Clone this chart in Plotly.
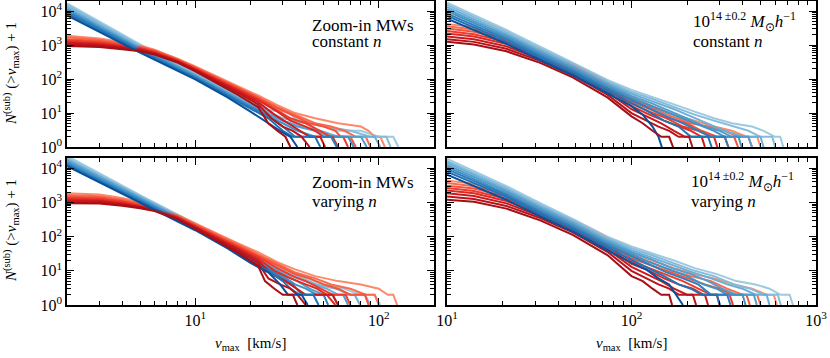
import plotly.graph_objects as go
import math

# ---------------- data ----------------
# Left column (zoom-in MWs): common body grids
L_RED_V = [2, 3, 4, 5, 6, 8, 10, 12, 17, 22]
L_BLUE_V = [2, 5, 10, 15, 20]
# Right column (clusters)
R_RED_V = [10, 14, 21, 32, 48, 74, 100]
R_BLUE_V = [10, 21, 32, 48, 74, 100]

# Top-left: Zoom-in MWs, constant n
TL_RED_N = [
    [1900, 1580, 1230, 980, 740, 400, 235, 150, 62, 33],
    [1700, 1450, 1150, 920, 700, 385, 225, 140, 57, 30],
    [1500, 1320, 1070, 870, 670, 370, 215, 134, 54, 28],
    [1380, 1220, 1000, 830, 640, 360, 205, 128, 51, 26],
    [1250, 1120, 930, 780, 610, 345, 198, 122, 48, 24],
    [1150, 1040, 870, 740, 580, 335, 190, 116, 44, 21],
    [1050, 960, 820, 700, 555, 320, 180, 108, 40, 18],
    [950, 880, 760, 660, 530, 305, 170, 100, 35, 15],
]
TL_RED_TAIL = [
    [(28, 17), (35, 10), (45, 7), (60, 5), (80, 4), (88, 3), (95, 2), (102, 2), (108, 1)],
    [(28, 15), (35, 9), (45, 5), (55, 4), (65, 3), (75, 2), (85, 2), (90, 1)],
    [(28, 14), (35, 8), (42, 5), (50, 4), (58, 3), (62, 2), (70, 2), (75, 1)],
    [(28, 12), (33, 7), (40, 5), (48, 3), (55, 2), (64, 2), (68, 1)],
    [(28, 11), (33, 6), (40, 4), (45, 3), (50, 2), (56, 2), (60, 1)],
    [(27, 9), (32, 5), (37, 3), (42, 2), (48, 2), (51, 1)],
    [(26, 7), (30, 4), (34, 3), (38, 2), (42, 1)],
    [(25, 5), (28, 3), (31, 2), (33, 1)],
]
TL_BLUE_N = [
    [17000, 1050, 150, 46, 21],
    [15000, 960, 142, 44, 20],
    [13000, 880, 134, 41, 18],
    [11500, 810, 126, 39, 17],
    [10500, 760, 120, 37, 16],
    [9500, 710, 113, 35, 15],
    [8500, 660, 106, 32, 13],
    [7500, 600, 98, 29, 11],
]
TL_BLUE_TAIL = [
    [(25, 12), (32, 11), (36, 6), (45, 5), (60, 3), (80, 3), (100, 2), (120, 2), (128, 1)],
    [(25, 11), (30, 7), (40, 5), (50, 4), (70, 3), (90, 2), (110, 2), (116, 1)],
    [(25, 10), (30, 6), (38, 4), (48, 3), (60, 2), (95, 2), (102, 1)],
    [(25, 9), (30, 6), (36, 4), (45, 3), (55, 2), (80, 2), (86, 1)],
    [(25, 8), (30, 5), (36, 3), (45, 2), (68, 2), (73, 1)],
    [(25, 8), (30, 4), (35, 2), (55, 2), (59, 1)],
    [(25, 7), (30, 3), (34, 2), (45, 2), (48, 1)],
    [(25, 5), (29, 3), (33, 2), (36, 1)],
]

# Bottom-left: Zoom-in MWs, varying n
BL_RED_N = [
    [1850, 1700, 1350, 1040, 800, 430, 240, 155, 65, 35],
    [1650, 1520, 1230, 960, 750, 410, 228, 146, 60, 31],
    [1480, 1390, 1130, 900, 710, 395, 218, 138, 56, 28],
    [1360, 1290, 1060, 850, 680, 380, 210, 131, 52, 26],
    [1250, 1190, 990, 800, 650, 365, 200, 124, 48, 23],
    [1140, 1100, 920, 760, 620, 350, 190, 116, 44, 20],
    [1040, 1010, 860, 720, 590, 335, 180, 108, 39, 17],
    [950, 930, 800, 680, 560, 320, 170, 99, 34, 14],
]
BL_RED_TAIL = [
    [(28, 18), (35, 11), (45, 7), (60, 5), (80, 4), (100, 3), (112, 2), (120, 2), (126, 1)],
    [(28, 16), (35, 9), (45, 6), (55, 4), (70, 3), (85, 2), (95, 2), (100, 1)],
    [(28, 14), (35, 8), (42, 6), (50, 4), (60, 3), (70, 2), (84, 2), (88, 1)],
    [(28, 12), (34, 7), (40, 5), (48, 3), (56, 2), (66, 2), (70, 1)],
    [(27, 10), (33, 6), (40, 4), (46, 3), (52, 2), (58, 1)],
    [(26, 8), (31, 5), (36, 3), (40, 2), (56, 2), (60, 1)],
    [(25, 6), (29, 4), (33, 3), (36, 2), (40, 1)],
    [(24, 5), (27, 3), (30, 2), (34, 2), (36, 1)],
]
BL_BLUE_N = [
    [23000, 1650, 240, 72, 30],
    [20000, 1500, 225, 67, 28],
    [18000, 1400, 212, 63, 27],
    [16500, 1300, 200, 60, 25],
    [15000, 1220, 190, 57, 23],
    [13500, 1130, 178, 53, 21],
    [12500, 1050, 166, 49, 19],
    [11500, 970, 154, 45, 17],
]
BL_BLUE_TAIL = [
    [(25, 17), (30, 11), (38, 7), (50, 4), (65, 3), (80, 2), (95, 2), (102, 1)],
    [(25, 16), (30, 10), (36, 7), (46, 4), (58, 3), (70, 2), (84, 2), (90, 1)],
    [(25, 15), (30, 9), (36, 6), (44, 4), (52, 3), (60, 2), (74, 2), (79, 1)],
    [(25, 14), (30, 8), (36, 5), (42, 3), (50, 2), (64, 2), (68, 1)],
    [(25, 12), (30, 7), (35, 4), (40, 3), (46, 2), (56, 2), (60, 1)],
    [(25, 11), (30, 6), (34, 4), (38, 2), (50, 2), (53, 1)],
    [(25, 10), (30, 5), (33, 3), (37, 2), (44, 2), (47, 1)],
    [(25, 9), (29, 4), (32, 2), (38, 2), (41, 1)],
]

# Top-right: clusters, constant n
TR_RED_N = [
    [4200, 3400, 1900, 720, 280, 85, 30],
    [3600, 2900, 1650, 640, 250, 75, 26],
    [3100, 2500, 1450, 570, 220, 66, 22],
    [2600, 2100, 1250, 510, 195, 58, 19],
    [2200, 1800, 1080, 450, 172, 50, 16],
    [1800, 1500, 920, 395, 150, 42, 13],
    [1500, 1250, 780, 345, 130, 35, 10],
    [1250, 1050, 660, 300, 112, 29, 8],
]
TR_RED_TAIL = [
    [(130, 16), (170, 9), (220, 6), (280, 4), (350, 3), (420, 2), (480, 2), (500, 1)],
    [(130, 14), (165, 8), (210, 5), (260, 4), (320, 3), (380, 2), (430, 2), (450, 1)],
    [(130, 12), (160, 7), (200, 5), (240, 3), (290, 2), (360, 2), (378, 1)],
    [(125, 11), (155, 7), (190, 4), (230, 3), (270, 2), (320, 2), (335, 1)],
    [(125, 9), (150, 6), (180, 4), (210, 3), (240, 2), (280, 2), (292, 1)],
    [(120, 8), (145, 5), (170, 3), (195, 2), (240, 2), (250, 1)],
    [(120, 6), (140, 4), (160, 3), (180, 2), (205, 2), (214, 1)],
    [(115, 5), (130, 3), (145, 2), (160, 2), (168, 1)],
]
TR_BLUE_N = [
    [18000, 2800, 900, 310, 95, 48],
    [15500, 2450, 800, 280, 85, 42],
    [13500, 2150, 700, 250, 76, 37],
    [11500, 1900, 620, 220, 67, 32],
    [10000, 1700, 550, 198, 60, 28],
    [8500, 1500, 480, 175, 52, 24],
    [7300, 1300, 420, 152, 45, 20],
    [6000, 1100, 360, 130, 38, 16],
]
TR_BLUE_TAIL = [
    [(130, 30), (170, 18), (220, 11), (280, 7), (350, 5), (450, 4), (520, 3), (600, 2), (640, 2), (665, 1)],
    [(130, 26), (170, 15), (220, 9), (280, 6), (360, 4), (430, 3), (500, 2), (580, 2), (600, 1)],
    [(130, 22), (170, 13), (210, 8), (260, 5), (320, 3), (400, 2), (500, 2), (520, 1)],
    [(130, 19), (165, 11), (200, 7), (250, 4), (300, 3), (350, 2), (430, 2), (450, 1)],
    [(125, 17), (160, 10), (200, 6), (240, 4), (280, 3), (320, 2), (380, 2), (395, 1)],
    [(125, 14), (155, 8), (190, 5), (230, 3), (270, 2), (320, 2), (335, 1)],
    [(120, 12), (150, 6), (180, 4), (210, 2), (260, 2), (272, 1)],
    [(115, 9), (130, 4), (140, 2), (146, 1)],
]

# Bottom-right: clusters, varying n
BR_RED_N = [
    [4400, 3500, 2000, 780, 300, 92, 34],
    [3700, 3000, 1700, 670, 260, 78, 28],
    [3100, 2550, 1480, 590, 228, 68, 23],
    [2650, 2150, 1280, 520, 200, 59, 19],
    [2250, 1850, 1100, 460, 176, 51, 16],
    [1850, 1550, 940, 400, 154, 43, 13],
    [1500, 1270, 790, 350, 133, 36, 10],
    [1200, 1050, 660, 300, 113, 29, 7],
]
BR_RED_TAIL = [
    [(130, 20), (170, 12), (220, 8), (280, 6), (360, 4), (450, 3), (540, 2), (590, 2), (614, 1)],
    [(130, 17), (165, 10), (210, 7), (270, 5), (330, 3), (400, 2), (480, 2), (500, 1)],
    [(130, 14), (160, 9), (200, 6), (250, 4), (300, 3), (350, 2), (420, 2), (438, 1)],
    [(125, 12), (155, 8), (190, 5), (230, 3), (270, 2), (340, 2), (355, 1)],
    [(125, 10), (150, 6), (180, 4), (215, 3), (245, 2), (290, 2), (300, 1)],
    [(120, 8), (145, 5), (170, 3), (200, 2), (250, 2), (260, 1)],
    [(120, 6), (140, 4), (160, 3), (180, 2), (215, 2), (224, 1)],
    [(115, 5), (130, 3), (145, 2), (160, 2), (166, 1)],
]
BR_BLUE_N = [
    [19000, 3000, 950, 330, 100, 52],
    [16500, 2650, 850, 300, 90, 46],
    [14500, 2350, 760, 270, 81, 40],
    [12500, 2100, 680, 240, 72, 35],
    [11000, 1850, 600, 215, 64, 30],
    [9500, 1650, 530, 190, 56, 26],
    [8000, 1450, 460, 165, 48, 21],
    [6500, 1200, 390, 140, 40, 17],
]
BR_BLUE_TAIL = [
    [(130, 32), (170, 20), (220, 12), (290, 8), (370, 5), (470, 4), (560, 3), (640, 2), (720, 2), (750, 1)],
    [(130, 28), (170, 17), (220, 10), (280, 7), (360, 4), (440, 3), (520, 2), (620, 2), (645, 1)],
    [(130, 24), (170, 14), (215, 9), (270, 6), (330, 4), (400, 3), (470, 2), (540, 2), (560, 1)],
    [(130, 21), (165, 12), (210, 8), (260, 5), (310, 3), (370, 2), (460, 2), (478, 1)],
    [(125, 18), (160, 11), (200, 7), (245, 4), (290, 3), (330, 2), (400, 2), (415, 1)],
    [(125, 15), (155, 9), (190, 6), (230, 4), (270, 2), (330, 2), (344, 1)],
    [(120, 13), (150, 7), (180, 4), (210, 3), (240, 2), (290, 2), (302, 1)],
    [(120, 11), (140, 6), (160, 4), (175, 2), (190, 1)],
]

RED_COLORS = ['#fc8a6a', '#fb6a4a', '#f5533b', '#ef3b2c', '#de2a25', '#cb181d', '#b81419', '#a50f15']
BLUE_COLORS = ['#9ecae1', '#85bcdc', '#6baed6', '#539ecd', '#4292c6', '#2f7ebc', '#2171b5', '#08519c']

PANEL_TEXT = {
    'tl': ['Zoom-in MWs', 'constant <i>n</i>'],
    'tr': ['10<sup>14 ±0.2</sup> <i>M</i><sub>⊙</sub><i>h</i><sup>−1</sup>', 'constant <i>n</i>'],
    'bl': ['Zoom-in MWs', 'varying <i>n</i>'],
    'br': ['10<sup>14 ±0.2</sup> <i>M</i><sub>⊙</sub><i>h</i><sup>−1</sup>', 'varying <i>n</i>'],
}

# ---------------- layout geometry ----------------
W, H = 830, 358
ML, MR, MT, MB = 67, 14, 1, 53
PW = W - ML - MR
PH = H - MT - MB

def px_x(px):
    return (px - ML) / PW

def px_y(py):
    return (H - MB - py) / PH

FONT = 'Liberation Serif'

fig = go.Figure()

panels = {
    'tl': dict(xa='x', ya='y', rv=L_RED_V, bv=L_BLUE_V, rn=TL_RED_N, rt=TL_RED_TAIL, bn=TL_BLUE_N, bt=TL_BLUE_TAIL),
    'tr': dict(xa='x2', ya='y2', rv=R_RED_V, bv=R_BLUE_V, rn=TR_RED_N, rt=TR_RED_TAIL, bn=TR_BLUE_N, bt=TR_BLUE_TAIL),
    'bl': dict(xa='x3', ya='y3', rv=L_RED_V, bv=L_BLUE_V, rn=BL_RED_N, rt=BL_RED_TAIL, bn=BL_BLUE_N, bt=BL_BLUE_TAIL),
    'br': dict(xa='x4', ya='y4', rv=R_RED_V, bv=R_BLUE_V, rn=BR_RED_N, rt=BR_RED_TAIL, bn=BR_BLUE_N, bt=BR_BLUE_TAIL),
}

for key, p in panels.items():
    for i in range(8):
        for kind in ('blue', 'red'):
            if kind == 'red':
                xs = list(p['rv']) + [t[0] for t in p['rt'][i]]
                ys = list(p['rn'][i]) + [t[1] for t in p['rt'][i]]
                col = RED_COLORS[i]
            else:
                xs = list(p['bv']) + [t[0] for t in p['bt'][i]]
                ys = list(p['bn'][i]) + [t[1] for t in p['bt'][i]]
                col = BLUE_COLORS[i]
            fig.add_trace(go.Scatter(x=xs, y=ys, mode='lines', xaxis=p['xa'], yaxis=p['ya'],
                                     line=dict(color=col, width=2), showlegend=False,
                                     hoverinfo='skip'))

xl_dom = [px_x(67), px_x(434)]
xr_dom = [px_x(447), px_x(816)]
yt_dom = [px_y(147), px_y(1)]
yb_dom = [px_y(305), px_y(158)]

sup = lambda e: '10<sup>%d</sup>' % e

def xaxis(dom, rng, vals, labels, anchor):
    return dict(type='log', domain=dom, range=rng, anchor=anchor, automargin=False,
                showline=True, linecolor='black', linewidth=1.5, mirror='ticks',
                ticks='inside', ticklen=7, tickwidth=1.3, tickcolor='black',
                tickvals=vals, ticktext=[sup(int(round(math.log10(v)))) for v in vals],
                showticklabels=labels, showgrid=False, zeroline=False,
                minor=dict(ticks='inside', ticklen=4, tickwidth=1, tickcolor='black', dtick='D1', showgrid=False),
                tickfont=dict(family=FONT, size=16, color='black'))

def yaxis(dom, labels, anchor):
    vals = [1, 10, 100, 1000, 10000]
    return dict(type='log', domain=dom, range=[0, math.log10(2e4)], anchor=anchor, automargin=False,
                showline=True, linecolor='black', linewidth=1.5, mirror='ticks',
                ticks='inside', ticklen=7, tickwidth=1.3, tickcolor='black',
                tickvals=vals, ticktext=[sup(i) for i in range(5)],
                showticklabels=labels, showgrid=False, zeroline=False,
                minor=dict(ticks='inside', ticklen=4, tickwidth=1, tickcolor='black', dtick='D1', showgrid=False),
                tickfont=dict(family=FONT, size=16, color='black'))

LX = [math.log10(2), math.log10(200)]
RX = [1, 3]

fig.update_layout(
    width=W, height=H, margin=dict(l=ML, r=MR, t=MT, b=MB, autoexpand=False),
    paper_bgcolor='white', plot_bgcolor='white',
    xaxis=xaxis(xl_dom, LX, [10, 100], False, 'y'),
    yaxis=yaxis(yt_dom, True, 'x'),
    xaxis2=xaxis(xr_dom, RX, [10, 100, 1000], False, 'y2'),
    yaxis2=yaxis(yt_dom, False, 'x2'),
    xaxis3=xaxis(xl_dom, LX, [10, 100], True, 'y3'),
    yaxis3=yaxis(yb_dom, True, 'x3'),
    xaxis4=xaxis(xr_dom, RX, [10, 100, 1000], True, 'y4'),
    yaxis4=yaxis(yb_dom, False, 'x4'),
    showlegend=False,
)

anns = []
def ann(text, x, y, size=16, **kw):
    d = dict(text=text, x=px_x(x), y=px_y(y), xref='paper', yref='paper', showarrow=False,
             font=dict(family=FONT, size=size, color='black'), xanchor='left', yanchor='middle')
    d.update(kw)
    anns.append(d)

ann(PANEL_TEXT['tl'][0], 310, 25, size=17)
ann(PANEL_TEXT['tl'][1], 310, 42, size=17)
ann(PANEL_TEXT['tr'][0], 691, 22, size=17)
ann(PANEL_TEXT['tr'][1], 691, 42, size=17)
ann(PANEL_TEXT['bl'][0], 310, 183, size=17)
ann(PANEL_TEXT['bl'][1], 310, 201, size=17)
ann(PANEL_TEXT['br'][0], 689, 181, size=17)
ann(PANEL_TEXT['br'][1], 689, 201, size=17)

ytitle = '<i>N</i><sup>(sub)</sup> (><i>v</i><sub>max</sub>) + 1'
for cy in (74, 231):
    ann(ytitle, 11, cy, size=15, xanchor='center', textangle=-90)
xtitle = '<i>v</i><sub>max</sub>  [km/s]'
for cx in (250, 631):
    ann(xtitle, cx, 344, size=15, xanchor='center')

fig.update_layout(annotations=anns)
fig.write_html('out.html', config={'displayModeBar': False},
               post_script="document.body.style.margin='0px';document.body.style.padding='0px';")
